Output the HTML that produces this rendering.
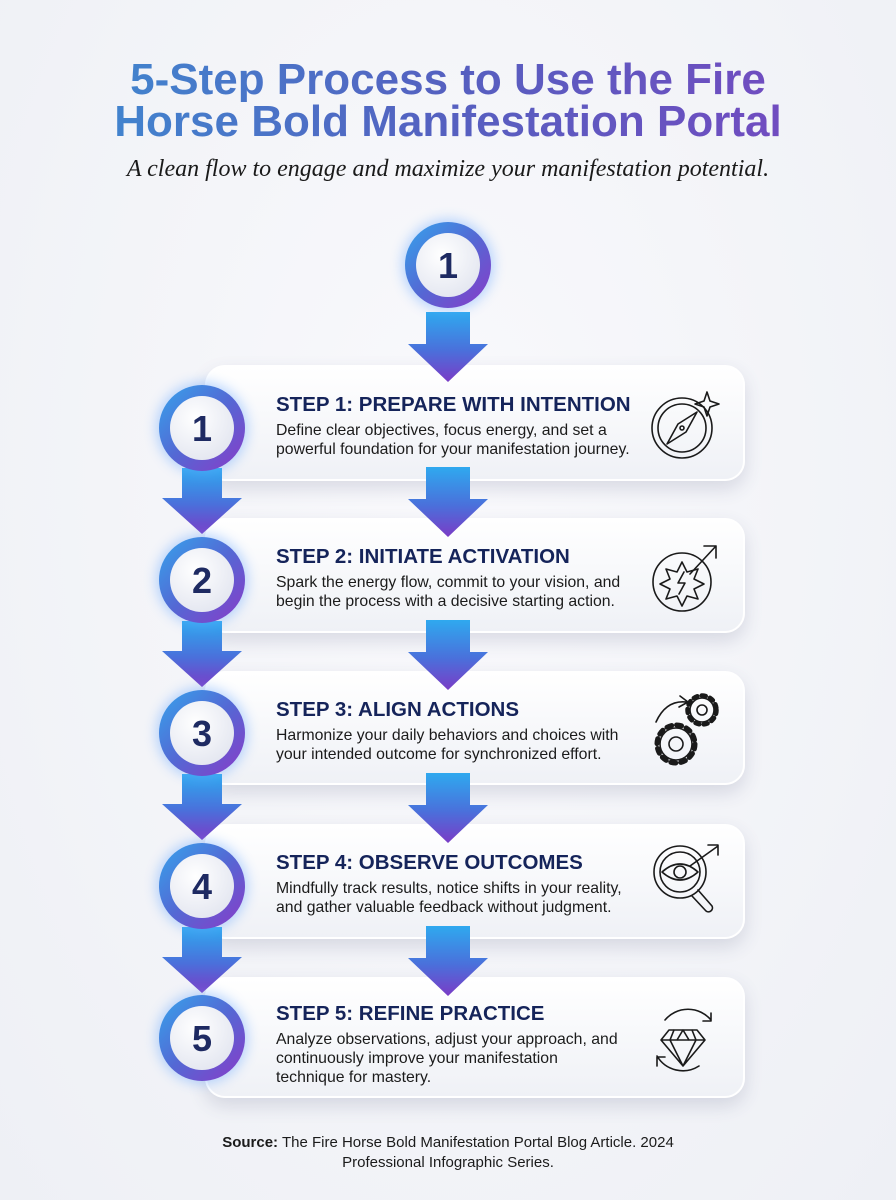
<!DOCTYPE html>
<html><head><meta charset="utf-8">
<style>
*{margin:0;padding:0;box-sizing:border-box}
body{width:896px;height:1200px;overflow:hidden;background:radial-gradient(ellipse at 50% 40%,#f9f9fc 0%,#eef0f5 100%);font-family:"Liberation Sans",sans-serif;position:relative}
.t{position:absolute;left:0;width:896px;text-align:center;font-weight:bold;font-size:44px;line-height:44px;background:linear-gradient(90deg,#3b8fd2,#5560c0 50%,#7a45c0);-webkit-background-clip:text;background-clip:text;color:transparent}
.sub{position:absolute;left:0;top:156px;width:896px;text-align:center;font-family:"Liberation Serif",serif;font-style:italic;font-size:24px;color:#1a1a1a}
.card{position:absolute;left:205px;width:540px;background:linear-gradient(180deg,#ffffff,#eff1f6);border:2px solid #fff;border-radius:20px;box-shadow:0 8px 18px rgba(60,70,110,.16)}
.h{position:absolute;left:276px;font-weight:bold;font-size:20.5px;color:#15245a;white-space:nowrap}
.d{position:absolute;left:276px;font-size:15.8px;line-height:19px;color:#1b1b1b;white-space:nowrap}
.src{position:absolute;left:0;width:896px;top:1133px;text-align:center;font-size:15px;line-height:20px;color:#1b1b1b}
svg{position:absolute;left:0;top:0}
</style></head><body>
<div class="t" style="top:58px">5-Step Process to Use the Fire</div>
<div class="t" style="top:100px">Horse Bold Manifestation Portal</div>
<div class="sub">A clean flow to engage and maximize your manifestation potential.</div>

<div class="card" style="top:365px;height:116px"></div>
<div class="card" style="top:518px;height:115px"></div>
<div class="card" style="top:671px;height:114px"></div>
<div class="card" style="top:824px;height:115px"></div>
<div class="card" style="top:977px;height:121px"></div>

<svg width="896" height="1200" viewBox="0 0 896 1200">
<defs>
<linearGradient id="ag" x1="0" y1="0" x2="0" y2="1"><stop offset="0" stop-color="#2fa9ef"/><stop offset="0.55" stop-color="#4a70db"/><stop offset="1" stop-color="#7a3cc6"/></linearGradient>
<linearGradient id="rg" x1="0" y1="0" x2="1" y2="1"><stop offset="0" stop-color="#35a4ec"/><stop offset="0.5" stop-color="#5468d4"/><stop offset="1" stop-color="#8a3ac8"/></linearGradient>
<radialGradient id="ig" cx="0.4" cy="0.35" r="0.7"><stop offset="0" stop-color="#ffffff"/><stop offset="1" stop-color="#e3e6f0"/></radialGradient>
<filter id="gl" x="-50%" y="-50%" width="200%" height="200%"><feGaussianBlur stdDeviation="6"/></filter>
<g id="arr"><path d="M-22 0 H22 V32 H40 L0 70 L-40 32 H-22 Z" fill="url(#ag)"/></g>
<g id="larr"><path d="M-20 0 H20 V30 H40 L0 66 L-40 30 H-20 Z" fill="url(#ag)"/></g>
<g id="circ">
<circle r="46" fill="#6aa8ff" opacity=".45" filter="url(#gl)"/>
<circle r="43" fill="url(#rg)"/>
<circle r="32" fill="url(#ig)"/>
</g>
</defs>
<use href="#arr" x="448" y="312"/>
<use href="#arr" x="448" y="467"/>
<use href="#arr" x="448" y="620"/>
<use href="#arr" x="448" y="773"/>
<use href="#arr" x="448" y="926"/>
<use href="#larr" x="202" y="468"/>
<use href="#larr" x="202" y="621"/>
<use href="#larr" x="202" y="774"/>
<use href="#larr" x="202" y="927"/>
<use href="#circ" x="448" y="265"/>
<use href="#circ" x="202" y="428"/>
<use href="#circ" x="202" y="580"/>
<use href="#circ" x="202" y="733"/>
<use href="#circ" x="202" y="886"/>
<use href="#circ" x="202" y="1038"/>
<g font-family="Liberation Sans" font-weight="bold" font-size="36" fill="#1e2a62" text-anchor="middle">
<text x="448" y="278">1</text>
<text x="202" y="441">1</text>
<text x="202" y="593">2</text>
<text x="202" y="746">3</text>
<text x="202" y="899">4</text>
<text x="202" y="1051">5</text>
</g>
<g fill="none" stroke="#1a1a1a" stroke-width="1.6" stroke-linecap="round" stroke-linejoin="round">
<circle cx="682" cy="428" r="30"/><circle cx="682" cy="428" r="24"/>
<path d="M697 412 L686 432 L667 444 L678 424 Z"/><circle cx="682" cy="428" r="2"/>
<path d="M707 392 l3 9 9 3 -9 3 -3 9 -3 -9 -9 -3 9 -3z"/>
<circle cx="682" cy="582" r="29"/>
<path d="M682 562 l5 10 11-3 -4 10 10 5 -10 5 4 10 -11-3 -5 10 -5-10 -11 3 4-10 -10-5 10-5 -4-10 11 3z"/>
<path d="M684 572 l-6 11 h7 l-6 11"/>
<path d="M690 574 L716 546 M704 546 h12 v12"/>
<circle cx="676" cy="744" r="16"/><circle cx="676" cy="744" r="7"/>
<circle cx="676" cy="744" r="19" stroke-width="5" stroke-dasharray="5 5"/>
<circle cx="702" cy="710" r="12"/><circle cx="702" cy="710" r="5"/>
<circle cx="702" cy="710" r="14.5" stroke-width="4.5" stroke-dasharray="4 4.5"/>
<path d="M656 722 q10 -22 30 -20 M680 696 l8 6 -9 5"/>
<circle cx="680" cy="872" r="26"/><circle cx="680" cy="872" r="20"/>
<path d="M662 872 q18 -16 36 0 q-18 16 -36 0z"/><circle cx="680" cy="872" r="6"/>
<path d="M698 890 l14 16 a4 4 0 0 1 -6 5 l-14 -15"/>
<path d="M690 866 L718 846 M708 845 h10 v10"/>
<path d="M665 1020 a30 30 0 0 1 46 0 M711 1013 v8 h-8"/>
<path d="M699 1066 a30 30 0 0 1 -42 -10 M657 1066 v-9 h8"/>
<path d="M669 1030 h28 l8 10 -22 26 -22 -26z M661 1040 h44 M674 1030 l-4 10 13 26 13 -26 -4 -10 M683 1030 l-6 10 M683 1030 l6 10"/>
</g>
</svg>

<div class="h" style="top:393px">STEP 1: PREPARE WITH INTENTION</div>
<div class="d" style="top:421px">Define clear objectives, focus energy, and set a<br>powerful foundation for your manifestation journey.</div>
<div class="h" style="top:545px">STEP 2: INITIATE ACTIVATION</div>
<div class="d" style="top:573px">Spark the energy flow, commit to your vision, and<br>begin the process with a decisive starting action.</div>
<div class="h" style="top:698px">STEP 3: ALIGN ACTIONS</div>
<div class="d" style="top:726px">Harmonize your daily behaviors and choices with<br>your intended outcome for synchronized effort.</div>
<div class="h" style="top:851px">STEP 4: OBSERVE OUTCOMES</div>
<div class="d" style="top:879px">Mindfully track results, notice shifts in your reality,<br>and gather valuable feedback without judgment.</div>
<div class="h" style="top:1002px">STEP 5: REFINE PRACTICE</div>
<div class="d" style="top:1030px">Analyze observations, adjust your approach, and<br>continuously improve your manifestation<br>technique for mastery.</div>

<div class="src"><b>Source:</b> The Fire Horse Bold Manifestation Portal Blog Article. 2024<br>Professional Infographic Series.</div>
</body></html>
